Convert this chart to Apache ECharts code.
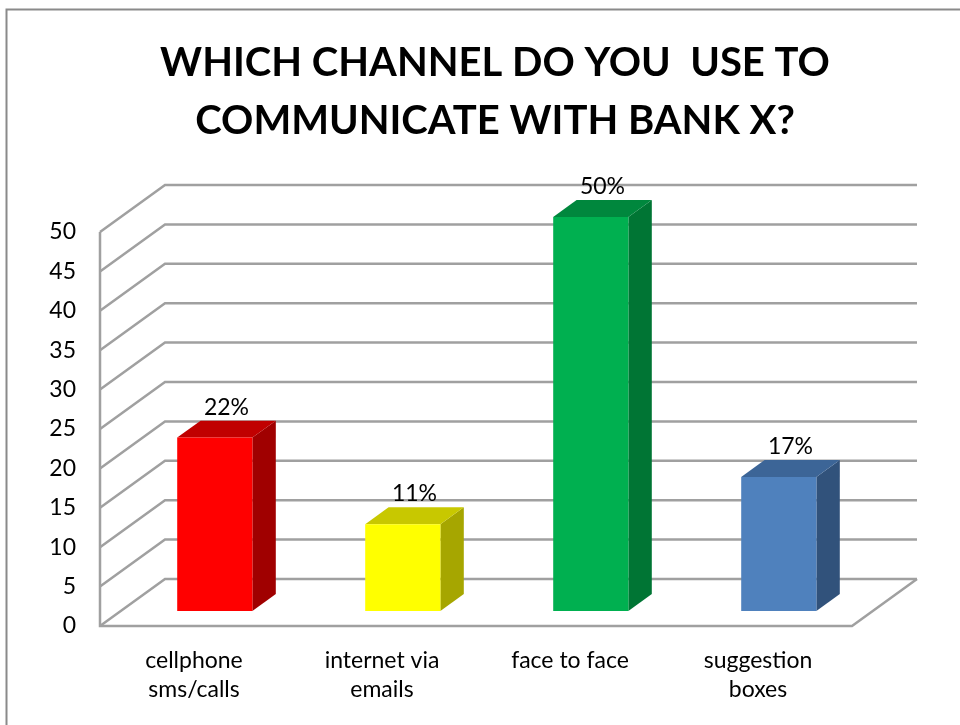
<!DOCTYPE html>
<html>
<head>
<meta charset="utf-8">
<script src="https://cdn.jsdelivr.net/npm/echarts@6/dist/echarts.min.js"></script>
<style>
    html, body { margin: 0; padding: 0; background: #fff; }
    #chart { width: 960px; height: 725px; }
</style>
</head>
<body>
<div id="chart"></div>
<script>
// data
const categories = ['cellphone\nsms/calls', 'internet via\nemails', 'face to face', 'suggestion\nboxes']
const values = [22, 11, 50, 17]
const yTicks = [0, 5, 10, 15, 20, 25, 30, 35, 40, 45, 50]
const frontColors = ['#FF0000', '#FFFF00', '#00B050', '#4F81BD']
const topColors = ['#C00000', '#C8C800', '#00873D', '#3C6597']
const sideColors = ['#A00000', '#A6A600', '#007534', '#31527B']

const DX = 65, DY = -47 // full depth of the box
const barStart = 0.32 // depth where the bar front sits
const barDepth = 0.36
const lineColor = '#a0a0a0'

const chart = echarts.init(document.getElementById('chart'))

const renderFrame = (params, api) => {
    const cs = params.coordSys
    const left = cs.x, right = cs.x + cs.width
    const v = api.value(0)
    const y = api.coord([0, v])[1]
    const children = []
    const style = { stroke: lineColor, lineWidth: 2.5, fill: null }
    children.push({
        type: 'polyline',
        shape: { points: [[left, y], [left + DX, y + DY], [right + DX, y + DY]] },
        style: style
    })
    if (v === 0) {
        const yTop = api.coord([0, yTicks[yTicks.length - 1]])[1]
        children.push({
            type: 'polyline',
            shape: { points: [[left, yTop], [left, y], [right, y], [right + DX, y + DY]] },
            style: style
        })
    }
    return { type: 'group', children: children }
}

const renderBar = (params, api) => {
    const i = api.value(0)
    const v = api.value(1)
    const base = api.coord([i, 0])
    const top = api.coord([i, v])
    const w = api.size([1, 0])[0] * 0.4
    const ox = DX * barStart, oy = DY * barStart
    const dx = DX * barDepth, dy = DY * barDepth
    const x0 = base[0] + ox - w / 2
    const x1 = x0 + w
    const yb = base[1] + oy
    const yt = top[1] + oy
    return {
        type: 'group',
        children: [
            {
                type: 'polygon',
                shape: { points: [[x1, yb], [x1 + dx, yb + dy], [x1 + dx, yt + dy], [x1, yt]] },
                style: { fill: sideColors[i] }
            },
            {
                type: 'polygon',
                shape: { points: [[x0, yt], [x1, yt], [x1 + dx, yt + dy], [x0 + dx, yt + dy]] },
                style: { fill: topColors[i] }
            },
            {
                type: 'rect',
                shape: { x: x0, y: yt, width: w, height: yb - yt },
                style: { fill: frontColors[i] }
            },
            {
                type: 'text',
                x: (x0 + x1) / 2 + dx / 2,
                y: yt + dy - 2,
                style: {
                    text: v + '%',
                    fill: '#000',
                    font: '23px Lato',
                    align: 'center',
                    verticalAlign: 'bottom'
                }
            }
        ]
    }
}

const option = {
    animation: false,
    backgroundColor: '#fff',
    title: {
        text: 'WHICH CHANNEL DO YOU  USE TO\nCOMMUNICATE WITH BANK X?',
        left: 490,
        top: 29,
        textAlign: 'center',
        textStyle: {
            fontFamily: 'Lato',
            fontWeight: 'bold',
            fontSize: 40,
            lineHeight: 58,
            color: '#000'
        }
    },
    graphic: [{
        type: 'rect',
        left: 4,
        top: 7,
        shape: { width: 1000, height: 1000 },
        style: { fill: null, stroke: '#8a8a8a', lineWidth: 2 },
        silent: true
    }],
    grid: { left: 100, right: 108, top: 232, bottom: 99 },
    xAxis: {
        type: 'category',
        data: categories,
        axisLine: { show: false },
        axisTick: { show: false },
        axisLabel: {
            margin: 20,
            fontFamily: 'Lato',
            fontSize: 23,
            lineHeight: 29,
            color: '#000'
        }
    },
    yAxis: {
        type: 'value',
        min: 0,
        max: 50,
        interval: 5,
        axisLine: { show: false },
        axisTick: { show: false },
        splitLine: { show: false },
        axisLabel: {
            margin: 24,
            fontFamily: 'Lato',
            fontSize: 23,
            color: '#000'
        }
    },
    series: [
        {
            type: 'custom',
            renderItem: renderFrame,
            data: yTicks.map(t => [t]),
            encode: { y: 0 },
            z: 1,
            silent: true
        },
        {
            type: 'custom',
            renderItem: renderBar,
            data: values.map((v, i) => [i, v]),
            encode: { x: 0, y: 1 },
            z: 2
        }
    ]
}
chart.setOption(option)
</script>
</body>
</html>
